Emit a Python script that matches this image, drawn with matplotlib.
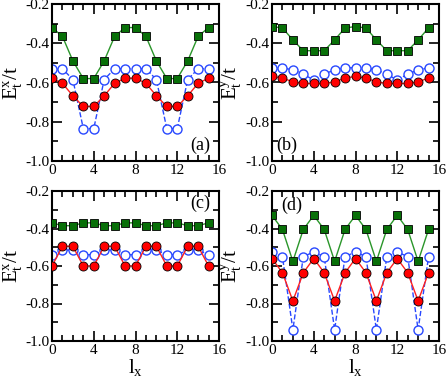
import matplotlib
matplotlib.use("Agg")
import matplotlib.pyplot as plt
from matplotlib.ticker import MultipleLocator, FormatStrFormatter

plt.rcParams['font.family'] = ['Liberation Serif', 'DejaVu Serif']
plt.rcParams['mathtext.fontset'] = 'custom'
plt.rcParams['mathtext.rm'] = 'Liberation Serif'
plt.rcParams['axes.unicode_minus'] = False

lx = list(range(16))

# panel (a)
a_green = [-0.32, -0.365, -0.49, -0.58, -0.58, -0.49, -0.365, -0.32,
           -0.32, -0.365, -0.49, -0.58, -0.58, -0.49, -0.365, -0.32]
a_red = [-0.578, -0.604, -0.668, -0.722, -0.722, -0.668, -0.604, -0.578,
         -0.578, -0.604, -0.668, -0.722, -0.722, -0.668, -0.604, -0.578]
a_blue = [-0.53, -0.53, -0.585, -0.835, -0.835, -0.585, -0.53, -0.53,
          -0.53, -0.53, -0.585, -0.835, -0.835, -0.585, -0.53, -0.53]

# panel (b)
b_green = [-0.315, -0.322, -0.383, -0.438, -0.438, -0.438, -0.383, -0.322,
           -0.315, -0.322, -0.383, -0.438, -0.438, -0.438, -0.383, -0.322]
b_red = [-0.569, -0.577, -0.597, -0.605, -0.605, -0.605, -0.597, -0.577,
         -0.569, -0.577, -0.597, -0.605, -0.605, -0.605, -0.597, -0.577]
b_blue = [-0.525, -0.525, -0.536, -0.557, -0.588, -0.557, -0.536, -0.525,
          -0.525, -0.525, -0.536, -0.557, -0.588, -0.557, -0.536, -0.525]

# panel (c)
c_green = [-0.37, -0.385, -0.385, -0.37, -0.37, -0.385, -0.385, -0.37,
           -0.37, -0.385, -0.385, -0.37, -0.37, -0.385, -0.385, -0.37]
c_red = [-0.6, -0.495, -0.495, -0.6, -0.6, -0.495, -0.495, -0.6,
         -0.6, -0.495, -0.495, -0.6, -0.6, -0.495, -0.495, -0.6]
c_blue = [-0.54, -0.515, -0.515, -0.54, -0.54, -0.515, -0.515, -0.54,
          -0.54, -0.515, -0.515, -0.54, -0.54, -0.515, -0.515, -0.54]

# panel (d)
d_green = [-0.33, -0.405, -0.575, -0.405, -0.33, -0.405, -0.575, -0.405,
           -0.33, -0.405, -0.575, -0.405, -0.33, -0.405, -0.575, -0.405]
d_red = [-0.56, -0.636, -0.786, -0.636, -0.56, -0.636, -0.786, -0.636,
         -0.56, -0.636, -0.786, -0.636, -0.56, -0.636, -0.786, -0.636]
d_blue = [-0.525, -0.55, -0.94, -0.55, -0.525, -0.55, -0.94, -0.55,
          -0.525, -0.55, -0.94, -0.55, -0.525, -0.55, -0.94, -0.55]

panels = [
    ("(a)", r"$\mathrm{E^x_t/t}$", a_green, a_red, a_blue),
    ("(b)", r"$\mathrm{E^y_t/t}$", b_green, b_red, b_blue),
    ("(c)", r"$\mathrm{E^x_t/t}$", c_green, c_red, c_blue),
    ("(d)", r"$\mathrm{E^y_t/t}$", d_green, d_red, d_blue),
]

W, H = 447.0, 381.0
boxes = [(52, 4, 219, 161), (272, 4, 439, 161),
         (52, 191, 219, 341), (272, 191, 439, 341)]
tag_pos = [(0.886, 0.10), (0.09, 0.10), (0.886, 0.92), (0.12, 0.905)]

fig = plt.figure(figsize=(4.47, 3.81), dpi=100)

for i, (tag, ylab, g, r, b) in enumerate(panels):
    x0, y0, x1, y1 = boxes[i]
    ax = fig.add_axes([x0 / W, 1 - y1 / H, (x1 - x0) / W, (y1 - y0) / H])
    ax.plot(lx, g, '-', color='#2a962a', lw=1.0, marker='s', ms=5.5,
            mfc='#087008', mec='black', mew=0.6, zorder=3)
    ax.plot(lx, b, '--', color='#2848ff', lw=1.0, marker='o', ms=6.5,
            mfc='white', mec='#2848ff', mew=1.0, zorder=2)
    ax.plot(lx, r, '-', color='#ff2020', lw=1.0, marker='o', ms=6.5,
            mfc='#ff0000', mec='black', mew=0.6, zorder=4)
    ax.set_xlim(0, 16)
    ax.set_ylim(-1.0, -0.2)
    ax.xaxis.set_major_locator(MultipleLocator(4))
    ax.xaxis.set_minor_locator(MultipleLocator(1))
    ax.yaxis.set_major_locator(MultipleLocator(0.2))
    ax.yaxis.set_minor_locator(MultipleLocator(0.1))
    ax.yaxis.set_major_formatter(FormatStrFormatter('%.1f'))
    ax.tick_params(which='both', direction='in', top=True, right=True,
                   labelsize=11, width=1.2, pad=2)
    ax.tick_params(which='major', length=7)
    ax.tick_params(which='minor', length=4)
    for s in ax.spines.values():
        s.set_linewidth(1.5)
    ax.set_ylabel(ylab, fontsize=15, labelpad=1)
    if i >= 2:
        ax.set_xlabel(r"$\mathrm{l_x}$", fontsize=15, labelpad=0)
    ax.text(tag_pos[i][0], tag_pos[i][1], tag, transform=ax.transAxes,
            fontsize=13, ha='center', va='center')

fig.savefig("out.png", dpi=100)
